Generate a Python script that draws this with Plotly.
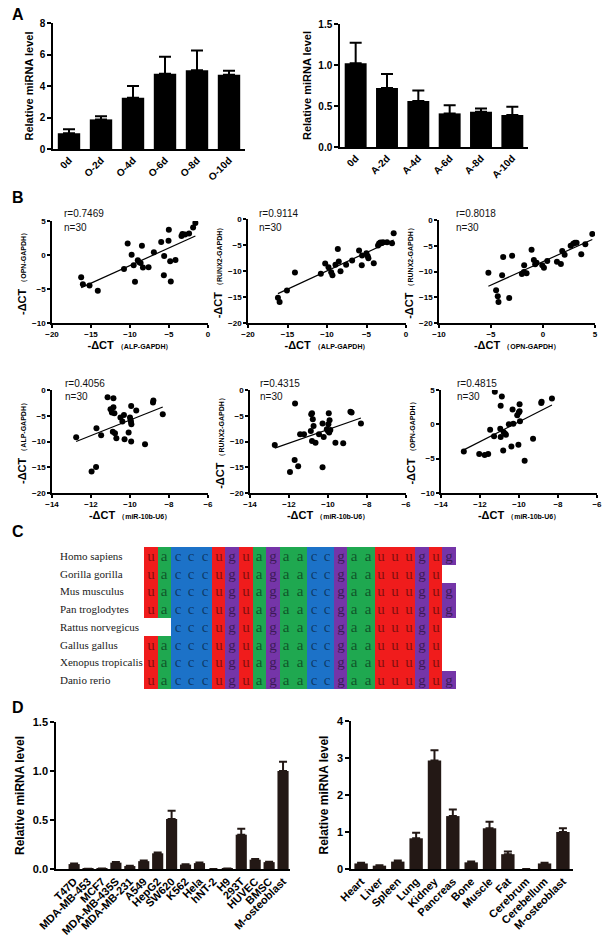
import numpy as np
import plotly.graph_objects as go

W, H = 616, 943

# ---------------- Panel A data ----------------
a_osteo_labels = ["0d", "O-2d", "O-4d", "O-6d", "O-8d", "O-10d"]
a_osteo_vals = [1.0, 1.88, 3.25, 4.77, 5.0, 4.72]
a_osteo_err = [0.25, 0.2, 0.75, 1.08, 1.25, 0.25]
a_adipo_labels = ["0d", "A-2d", "A-4d", "A-6d", "A-8d", "A-10d"]
a_adipo_vals = [1.02, 0.72, 0.56, 0.41, 0.43, 0.39]
a_adipo_err = [0.25, 0.17, 0.13, 0.1, 0.04, 0.1]

# ---------------- Panel B data ----------------
b1_x = [-16.26, -16.04, -15.19, -14.13, -10.77, -10.3, -9.79, -9.53, -9.36, -9.0,
        -8.8, -8.64, -8.47, -8.34, -7.62, -6.94, -6.0, -5.62, -5.66, -5.06,
        -5.02, -4.85, -4.77, -4.17, -3.4, -3.28, -2.94, -2.43, -1.91, -1.62]
b1_y = [-3.26, -4.29, -4.48, -5.26, -2.05, 1.7, 0.05, -1.51, -3.95, -0.78,
        -1.07, -1.17, 1.36, -1.85, -1.8, 0.39, 1.9, -0.15, -2.97, 2.1,
        3.7, -0.93, -3.9, -0.73, 2.78, 3.07, 3.02, 3.17, 4.04, 4.72]
b2_x = [-16.21, -16.0, -15.07, -14.06, -10.78, -10.23, -9.81, -9.47, -9.31, -8.93,
        -8.63, -8.51, -8.29, -7.58, -6.82, -5.94, -5.6, -5.56, -5.01, -4.84,
        -4.76, -4.08, -3.54, -3.41, -3.24, -2.91, -2.4, -1.77, -1.56, -3.07]
b2_y = [-15.14, -15.97, -13.74, -10.29, -10.54, -8.56, -9.27, -10.22, -10.8, -8.82,
        -5.75, -8.18, -10.03, -8.82, -7.99, -6.07, -8.88, -7.03, -6.58, -7.16,
        -7.54, -8.5, -5.11, -4.73, -4.54, -4.47, -4.47, -4.66, -2.75, -4.6]
b3_x = [-5.25, -4.51, -4.35, -4.28, -3.93, -3.83, -3.25, -2.97, -2.03, -1.84,
        -1.81, -1.58, -1.1, -0.88, -0.75, -0.62, -0.07, 0.09, 0.41, 1.34,
        1.72, 1.85, 2.08, 2.66, 2.91, 3.07, 3.23, 3.68, 4.07, 4.74]
b3_y = [-10.23, -13.66, -14.82, -15.92, -10.74, -7.18, -15.15, -6.93, -10.49, -10.1,
        -8.8, -10.36, -5.76, -7.77, -8.61, -8.28, -8.8, -9.26, -7.96, -8.09,
        -8.54, -6.02, -6.73, -4.98, -4.6, -4.4, -4.4, -6.67, -4.72, -2.72]
b4_x = [-12.76, -11.97, -11.74, -11.72, -11.48, -11.15, -10.85, -11.0, -10.93, -10.85,
        -10.8, -10.88, -10.77, -10.7, -10.49, -10.39, -10.31, -10.28, -10.07, -10.0,
        -9.97, -9.94, -9.93, -9.94, -9.68, -9.23, -8.82, -8.8, -8.32, -9.95]
b4_y = [-9.16, -15.81, -14.97, -7.42, -8.77, -1.42, -1.61, -3.74, -4.39, -3.35,
        -4.52, -8.13, -8.39, -9.35, -5.35, -6.13, -4.84, -9.55, -8.26, -5.35,
        -5.81, -3.1, -6.65, -10.0, -4.0, -10.52, -2.45, -2.06, -4.71, -6.2]
b5_x = [-12.73, -11.95, -11.71, -11.53, -11.69, -11.43, -11.23, -10.88, -10.86, -10.82,
        -10.78, -10.82, -10.74, -10.64, -10.46, -10.28, -10.22, -10.28, -10.06, -9.96,
        -9.98, -9.94, -9.92, -10.0, -9.88, -9.62, -9.22, -8.85, -8.79, -8.31]
b5_y = [-10.68, -15.9, -13.6, -14.79, -2.6, -8.6, -8.6, -7.95, -4.69, -4.5,
        -5.67, -9.9, -6.97, -10.23, -8.6, -6.51, -9.12, -14.98, -7.62, -4.5,
        -6.64, -8.27, -5.86, -7.95, -7.75, -10.23, -10.36, -4.23, -4.36, -6.51]
b6_x = [-12.83, -12.04, -11.76, -11.58, -11.48, -11.24, -11.28, -10.96, -10.88, -10.94,
        -10.94, -10.79, -10.71, -10.67, -10.81, -10.52, -10.39, -10.33, -10.29, -10.09,
        -10.01, -9.97, -9.97, -9.95, -10.03, -9.71, -9.28, -8.86, -8.84, -8.31]
b6_y = [-3.97, -4.31, -4.46, -4.31, -0.78, 4.75, -1.72, -0.64, 4.07, 2.7,
        -1.86, -1.13, -1.37, -1.52, -3.82, 0.0, -3.24, 2.16, 0.1, 1.32,
        1.72, 1.91, 2.94, 0.44, -2.99, -5.29, -2.11, 3.09, 3.28, 3.77]
b_r_text = ["r=0.7469", "r=0.9114", "r=0.8018", "r=0.4056", "r=0.4315", "r=0.4815"]
b_n_text = ["n=30"] * 6
b_xlabels = ["ALP-GAPDH", "ALP-GAPDH", "OPN-GAPDH", "miR-10b-U6", "miR-10b-U6", "miR-10b-U6"]
b_ylabels = ["OPN-GAPDH", "RUNX2-GAPDH", "RUNX2-GAPDH", "ALP-GAPDH", "RUNX2-GAPDH", "OPN-GAPDH"]

# ---------------- Panel C data ----------------
c_species = ["Homo sapiens", "Gorilla gorilla", "Mus musculus", "Pan troglodytes",
             "Rattus norvegicus", "Gallus gallus", "Xenopus tropicalis", "Danio rerio"]
c_sequences = ["uacccuguagaaccgaauuugug",
               "uacccuguagaaccgaauuugu-",
               "uacccuguagaaccgaauuugug",
               "uacccuguagaaccgaauuugug",
               "--cccuguagaaccgaauuugu-",
               "uacccuguagaaccgaauuugu-",
               "uacccuguagaaccgaauuugu-",
               "uacccuguagaaccgaauuugug"]
c_base_codes = {"u": 0, "a": 1, "c": 2, "g": 3}

# ---------------- Panel D data ----------------
d_cell_labels = ["T47D", "MDA-MB-453", "MCF7", "MDA-MB-435S", "MDA-MB-231", "A549", "HepG2",
                 "SW620", "K562", "Hela", "hNT-2", "H9", "293T", "HUVEC", "BMSC", "M-osteoblast"]
d_cell_vals = [0.05, 0.002, 0.006, 0.065, 0.03, 0.08, 0.16, 0.51, 0.045, 0.06, 0.0, 0.004,
               0.35, 0.095, 0.07, 1.0]
d_cell_err = [0.006, 0.0, 0.0, 0.006, 0.004, 0.006, 0.008, 0.085, 0.004, 0.006, 0.0, 0.0,
              0.06, 0.006, 0.005, 0.095]
d_tissue_labels = ["Heart", "Liver", "Spleen", "Lung", "Kidney", "Pancreas", "Bone", "Muscle",
                   "Fat", "Cerebrum", "Cerebellum", "M-osteoblast"]
d_tissue_vals = [0.15, 0.09, 0.2, 0.83, 2.93, 1.43, 0.18, 1.1, 0.4, 0.0, 0.15, 1.0]
d_tissue_err = [0.02, 0.01, 0.03, 0.15, 0.28, 0.18, 0.02, 0.18, 0.07, 0.0, 0.02, 0.1]

# ---------------- helpers ----------------
SANS = "Liberation Sans, Arial, sans-serif"
SERIF = "Liberation Serif, Times New Roman, serif"


def dxp(l, r):
    return [l / W, r / W]


def dyp(t, b):
    return [1 - b / H, 1 - t / H]


def axstyle(**kw):
    d = dict(showline=True, linecolor="black", linewidth=1.5, showgrid=False,
             zeroline=False, ticks="outside", ticklen=4, tickwidth=1.5, tickcolor="black",
             automargin=False,
             tickfont=dict(family=SANS, size=10, color="black", weight="bold"))
    d.update(kw)
    return d


fig = go.Figure()
layout = dict(width=W, height=H, margin=dict(l=0, r=0, t=0, b=0, autoexpand=False),
              paper_bgcolor="white", plot_bgcolor="white", showlegend=False,
              font=dict(family=SANS, color="black"))
annotations = []

# ---------------- Panel A ----------------
for i, (labels, vals, err, xd, yd, yr, dt) in enumerate([
        (a_osteo_labels, a_osteo_vals, a_osteo_err, dxp(53, 245), dyp(23, 149), [0, 8], 2),
        (a_adipo_labels, a_adipo_vals, a_adipo_err, dxp(340, 528), dyp(24, 147), [0, 1.5], 0.5)]):
    n = i + 1
    xa = "x" if n == 1 else f"x{n}"
    ya = "y" if n == 1 else f"y{n}"
    fig.add_trace(go.Bar(x=labels, y=vals, width=0.7,
                         marker=dict(color="black", line=dict(width=0)),
                         error_y=dict(type="data", array=err, arrayminus=[0] * len(err),
                                      symmetric=False, color="black", thickness=2, width=6),
                         xaxis=xa, yaxis=ya))
    xk = "xaxis" if n == 1 else f"xaxis{n}"
    yk = "yaxis" if n == 1 else f"yaxis{n}"
    layout[xk] = axstyle(domain=xd, anchor=ya, ticks="", tickangle=-45, range=[-0.5, 5.5],
                         type="category")
    layout[yk] = axstyle(domain=yd, anchor=xa, range=yr, dtick=dt,
                         tickformat=".1f" if n == 2 else "d",
                         title=dict(text="Relative miRNA level", standoff=4,
                                    font=dict(family=SANS, size=11, weight="bold")))

# ---------------- Panel B ----------------
b_data = [(b1_x, b1_y), (b2_x, b2_y), (b3_x, b3_y), (b4_x, b4_y), (b5_x, b5_y), (b6_x, b6_y)]
b_xranges = [[-20, 0], [-20, 0], [-10, 5], [-14, -6], [-14, -6], [-14, -6]]
b_yranges = [[-10, 5], [-20, 0], [-20, 0], [-20, 0], [-20, 0], [-10, 5]]
b_xdt = [5, 5, 5, 2, 2, 2]
b_xdom = [(52, 208), (248, 406), (439, 595), (52, 208), (250, 406), (441, 597)]
b_ydom = [(221, 323), (219, 323), (220, 323), (390, 493), (390, 493), (390, 493)]
b_text_pos = [(62, 214), (257, 214), (454, 214), (63, 383), (258, 383), (455, 383)]

for k, ((xs, ys), xr, yr, xdt, xdom, ydom, tp) in enumerate(
        zip(b_data, b_xranges, b_yranges, b_xdt, b_xdom, b_ydom, b_text_pos)):
    n = 3 + k
    xa, ya = f"x{n}", f"y{n}"
    fig.add_trace(go.Scatter(x=xs, y=ys, mode="markers",
                             marker=dict(color="black", size=6), xaxis=xa, yaxis=ya))
    slope, icpt = np.polyfit(xs, ys, 1)
    lx = np.array([min(xs), max(xs)])
    fig.add_trace(go.Scatter(x=lx, y=slope * lx + icpt, mode="lines",
                             line=dict(color="black", width=1.2), xaxis=xa, yaxis=ya))
    tf = dict(family=SANS, size=8, color="black", weight="bold")
    layout[f"xaxis{n}"] = axstyle(domain=dxp(*xdom), anchor=ya, range=xr, dtick=xdt,
                                  tickfont=tf, ticklen=3,
                                  title=dict(text="-ΔCT <span style='font-size:7px'>（" +
                                             b_xlabels[k] + "）</span>", standoff=3,
                                             font=dict(family=SANS, size=11, weight="bold")))
    layout[f"yaxis{n}"] = axstyle(domain=dyp(*ydom), anchor=xa, range=yr, dtick=5,
                                  tickfont=tf, ticklen=3,
                                  title=dict(text="-ΔCT <span style='font-size:7px'>（" +
                                             b_ylabels[k] + "）</span>", standoff=3,
                                             font=dict(family=SANS, size=11, weight="bold")))
    annotations.append(dict(x=tp[0] / W, y=1 - tp[1] / H, xref="paper", yref="paper",
                            text=b_r_text[k], showarrow=False, xanchor="left", yanchor="middle",
                            font=dict(family=SANS, size=10, color="#111")))
    annotations.append(dict(x=tp[0] / W, y=1 - (tp[1] + 13) / H, xref="paper", yref="paper",
                            text=b_n_text[k], showarrow=False, xanchor="left", yanchor="middle",
                            font=dict(family=SANS, size=10, color="#111")))

# ---------------- Panel C ----------------
z = [[c_base_codes.get(ch) for ch in seq] for seq in c_sequences]
txt = [[ch if ch != "-" else "" for ch in seq] for seq in c_sequences]
cs = [[0, "#f01c1c"], [1 / 6, "#f01c1c"], [1 / 6, "#1fa850"], [0.5, "#1fa850"],
      [0.5, "#1c72c8"], [5 / 6, "#1c72c8"], [5 / 6, "#7535a8"], [1, "#7535a8"]]
ncol = len(c_sequences[0])
fig.add_trace(go.Heatmap(z=z, x=list(range(ncol)), y=c_species, text=txt,
                         texttemplate="%{text}",
                         textfont=dict(family=SERIF, size=15, color="rgba(0,0,0,0.5)"),
                         colorscale=cs, zmin=0, zmax=3, showscale=False,
                         xaxis="x9", yaxis="y9", hoverongaps=False))
layout["xaxis9"] = dict(domain=dxp(144, 456), anchor="y9", range=[-0.5, ncol - 0.5],
                        showticklabels=False, showgrid=False, zeroline=False, showline=False,
                        ticks="", automargin=False)
layout["yaxis9"] = dict(domain=dyp(547, 689), anchor="x9", autorange="reversed",
                        showticklabels=False, showgrid=False, zeroline=False, showline=False,
                        ticks="", type="category", automargin=False)
for sp in c_species:
    annotations.append(dict(x=58 / W, y=sp, xref="paper", yref="y9", text=sp,
                            showarrow=False, xanchor="left", yanchor="middle",
                            font=dict(family=SERIF, size=11, color="#1a1a1a")))

# ---------------- Panel D ----------------
DCOL = "#231815"
for n, labels, vals, err, xd, yd, yr, dt, xr, bw, fmt in [
        (10, d_cell_labels, d_cell_vals, d_cell_err, dxp(56, 290), dyp(722, 869), [0, 1.5], 0.5,
         [-1.3, 15.5], 0.8, ".1f"),
        (11, d_tissue_labels, d_tissue_vals, d_tissue_err, dxp(351, 573), dyp(721, 869), [0, 4], 1,
         [-0.55, 11.55], 0.73, "d")]:
    xa, ya = f"x{n}", f"y{n}"
    fig.add_trace(go.Bar(x=labels, y=vals, width=bw,
                         marker=dict(color=DCOL, line=dict(width=0)),
                         error_y=dict(type="data", array=err, arrayminus=[0] * len(err),
                                      symmetric=False, color=DCOL, thickness=2, width=4),
                         xaxis=xa, yaxis=ya))
    tf = dict(family=SANS, size=11, color="black", weight="bold")
    layout[f"xaxis{n}"] = axstyle(domain=xd, anchor=ya, ticks="", tickangle=-45, range=xr,
                                  type="category", tickfont=tf)
    layout[f"yaxis{n}"] = axstyle(domain=yd, anchor=xa, range=yr, dtick=dt, tickformat=fmt,
                                  tickfont=tf,
                                  title=dict(text="Relative miRNA level", standoff=6,
                                             font=dict(family=SANS, size=12, weight="bold")))

# ---------------- Panel letters ----------------
for letter, px, py in [("A", 10, 15), ("B", 10, 197), ("C", 10, 531), ("D", 10, 707)]:
    annotations.append(dict(x=px / W, y=1 - py / H, xref="paper", yref="paper", text=letter,
                            showarrow=False, xanchor="left", yanchor="middle",
                            font=dict(family=SANS, size=16, color="black", weight="bold")))

layout["annotations"] = annotations
fig.update_layout(**layout)
fig.write_html("out.html", config={"displayModeBar": False},
               post_script="document.body.style.margin='0';document.body.style.overflow='hidden';")
